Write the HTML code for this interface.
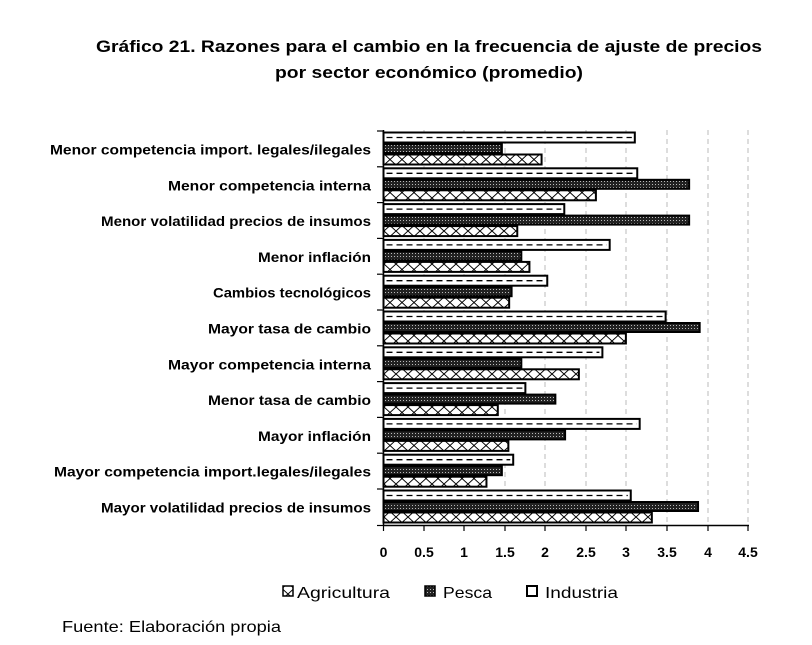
<!DOCTYPE html>
<html><head><meta charset="utf-8"><style>
html,body{margin:0;padding:0;background:#fff;}
svg{display:block;font-family:"Liberation Sans",sans-serif;}
</style></head><body>
<svg width="812" height="645" viewBox="0 0 812 645" xmlns="http://www.w3.org/2000/svg">
<defs>
<pattern id="pP" width="3" height="3" patternUnits="userSpaceOnUse">
<rect width="3" height="3" fill="#222"/><rect x="1" y="1" width="1" height="1" fill="#bbb"/>
</pattern>
<pattern id="pA" width="12" height="11" patternUnits="userSpaceOnUse">
<rect width="12" height="11" fill="#fff"/><path d="M0 0 L12 11 M12 0 L0 11" stroke="#000" stroke-width="1"/>
</pattern>
</defs>
<text x="429" y="52" text-anchor="middle" font-size="17" font-weight="bold" textLength="666" lengthAdjust="spacingAndGlyphs">Gráfico 21. Razones para el cambio en la frecuencia de ajuste de precios</text>
<text x="429" y="78" text-anchor="middle" font-size="17" font-weight="bold" textLength="308" lengthAdjust="spacingAndGlyphs">por sector económico (promedio)</text>
<g stroke="#bbb" stroke-dasharray="5,4" stroke-width="1">
<line x1="424" y1="130" x2="424" y2="525"/><line x1="464" y1="130" x2="464" y2="525"/><line x1="505" y1="130" x2="505" y2="525"/><line x1="545" y1="130" x2="545" y2="525"/><line x1="586" y1="130" x2="586" y2="525"/><line x1="626" y1="130" x2="626" y2="525"/><line x1="667" y1="130" x2="667" y2="525"/><line x1="708" y1="130" x2="708" y2="525"/><line x1="748" y1="130" x2="748" y2="525"/>
</g>
<g id="bars" stroke="#000" stroke-width="2"></g>
<g stroke="#000" stroke-width="1.5">
<line x1="383.5" y1="130" x2="383.5" y2="526"/><line x1="383" y1="525.5" x2="749" y2="525.5"/>
</g>
<g id="ticks" stroke="#000" stroke-width="1.2"></g>
<g id="labels" font-size="13.5" font-weight="bold" text-anchor="end"></g>
<g font-size="14" font-weight="bold" text-anchor="middle">
<text x="383.5" y="557">0</text><text x="424" y="557">0.5</text><text x="464" y="557">1</text><text x="505" y="557">1.5</text><text x="545" y="557">2</text><text x="586" y="557">2.5</text><text x="626" y="557">3</text><text x="667" y="557">3.5</text><text x="708" y="557">4</text><text x="748" y="557">4.5</text>
</g>
<rect x="283" y="586" width="10" height="10" fill="url(#pA)" stroke="#000" stroke-width="1.5"/>
<text x="297" y="598" font-size="16" textLength="93" lengthAdjust="spacingAndGlyphs">Agricultura</text>
<rect x="425" y="586" width="10" height="10" fill="url(#pP)" stroke="#000" stroke-width="1.5"/>
<text x="443" y="598" font-size="16" textLength="49" lengthAdjust="spacingAndGlyphs">Pesca</text>
<rect x="527" y="586" width="10" height="10" fill="#fff" stroke="#000" stroke-width="2"/>
<text x="545" y="598" font-size="16" textLength="73" lengthAdjust="spacingAndGlyphs">Industria</text>
<text x="62" y="632" font-size="16" textLength="219" lengthAdjust="spacingAndGlyphs">Fuente: Elaboración propia</text>
<script>
var ns="http://www.w3.org/2000/svg";
var data=[
["Menor competencia import. legales/ilegales",3.10,1.46,1.95,321],
["Menor competencia interna",3.13,3.77,2.62,203],
["Menor volatilidad precios de insumos",2.23,3.77,1.65,270],
["Menor inflación",2.79,1.70,1.80,113],
["Cambios tecnológicos",2.02,1.58,1.55,158],
["Mayor tasa de cambio",3.48,3.90,2.99,163],
["Mayor competencia interna",2.70,1.70,2.41,203],
["Menor tasa de cambio",1.75,2.12,1.41,163],
["Mayor inflación",3.16,2.24,1.54,113],
["Mayor competencia import.legales/ilegales",1.60,1.46,1.27,317],
["Mayor volatilidad precios de insumos",3.05,3.88,3.31,270]];
var x0=383.5,s=81.07,y0=131,gh=35.8;
var B=document.getElementById("bars"),T=document.getElementById("ticks"),L=document.getElementById("labels");
function el(p,t,a){var e=document.createElementNS(ns,t);for(var k in a)e.setAttribute(k,a[k]);p.appendChild(e);return e;}
data.forEach(function(d,i){
 var y=y0+i*gh;
 el(B,"rect",{x:x0,y:y+1.5,width:d[1]*s,height:10,fill:"#fff"});
 el(B,"line",{x1:x0+3,y1:y+6.5,x2:x0+d[1]*s-3,y2:y+6.5,"stroke-width":1.3,"stroke-dasharray":"6,4"});
 el(B,"rect",{x:x0,y:y+13,width:d[2]*s,height:9,fill:"url(#pP)"});
 el(B,"rect",{x:x0,y:y+23.5,width:d[3]*s,height:10,fill:"url(#pA)"});
 el(T,"line",{x1:377,y1:y,x2:383.5,y2:y});
 var t=el(L,"text",{x:371,y:y+23.5,textLength:d[4],lengthAdjust:"spacingAndGlyphs"});t.textContent=d[0];
});
el(T,"line",{x1:377,y1:525.5,x2:383.5,y2:525.5});
[383.5,424,464,505,545,586,626,667,708,748].forEach(function(x){el(T,"line",{x1:x,y1:525,x2:x,y2:531});});
</script>
</svg>
</body></html>
